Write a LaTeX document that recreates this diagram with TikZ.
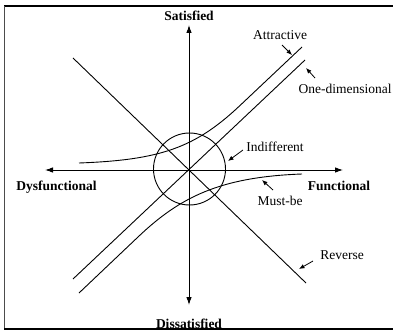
\documentclass[tikz,border=0pt]{standalone}
\usepackage{fontspec}
\setmainfont{Liberation Serif}
\usetikzlibrary{arrows.meta}

\begin{document}
\begin{tikzpicture}[x=1pt, y=-1pt, font=\fontsize{13.5}{15}\selectfont, >={Latex[length=8pt,width=5.5pt]}, line width=0.9pt]
    \useasboundingbox (0,0) rectangle (393,331);
    \tikzset{
        axislabel/.style={font=\fontsize{13.5}{15}\selectfont\bfseries, inner sep=0pt, anchor=base},
        curvelabel/.style={inner sep=0pt, anchor=base},
        pointer/.style={-{Latex[length=5.5pt,width=4.5pt]}, line width=0.8pt}
    }
    % axes
    \coordinate (O) at (189,170);
    \coordinate (up) at (189,25);
    \coordinate (down) at (189,305);
    \coordinate (left) at (45,170);
    \coordinate (right) at (343,170);
    \draw[->] (O) -- (up);
    \draw[->] (O) -- (down);
    \draw[->] (O) -- (left);
    \draw[->] (O) -- (right);
    \node[axislabel] (sat) at (189,21) {Satisfied};
    \node[axislabel] (dissat) at (189,328) {Dissatisfied};
    \node[axislabel] (dysf) at (56.5,190.5) {Dysfunctional};
    \node[axislabel] (func) at (339,190.5) {Functional};
    % indifferent circle
    \node[circle, draw, minimum size=72pt, inner sep=0pt] (ind) at (189.5,169) {};
    % one-dimensional and reverse lines
    \coordinate (od1) at (73,279);
    \coordinate (od2) at (305,60);
    \coordinate (rv1) at (73,58);
    \coordinate (rv2) at (306,283);
    \draw (od1) -- (od2);
    \draw (rv1) -- (rv2);
    % attractive and must-be curves
    \draw (79,163) .. controls (160,160) and (195,148) .. (240,105.5) -- (302,47);
    \draw (79,293) -- (138,237) .. controls (180,197) and (220,177) .. (302,174);
    % labels
    \node[curvelabel] (attr) at (280,40) {Attractive};
    \node[curvelabel] (onedim) at (345,94) {One-dimensional};
    \node[curvelabel] (indl) at (275,151.5) {Indifferent};
    \node[curvelabel] (must) at (280,205.5) {Must-be};
    \node[curvelabel] (rev) at (342,259) {Reverse};
    % pointers
    \coordinate (attrA) at (282,45);  \coordinate (attrB) at (292,55);
    \coordinate (odA) at (315,78);    \coordinate (odB) at (306,68);
    \coordinate (indA) at (243,150);  \coordinate (indB) at (228,161);
    \coordinate (mustA) at (273,190); \coordinate (mustB) at (262,180);
    \coordinate (revA) at (313,261);  \coordinate (revB) at (299,269);
    \draw[pointer] (attrA) -- (attrB);
    \draw[pointer] (odA) -- (odB);
    \draw[pointer] (indA) -- (indB);
    \draw[pointer] (mustA) -- (mustB);
    \draw[pointer] (revA) -- (revB);
    % frame
    \draw[line width=2pt] (4,6.5) -- (393,6.5);
    \draw[line width=1.5pt, black!70] (4.5,6.5) -- (4.5,328.5);
    \draw[line width=2.5pt] (4,329) -- (393,329);
\end{tikzpicture}
\end{document}
